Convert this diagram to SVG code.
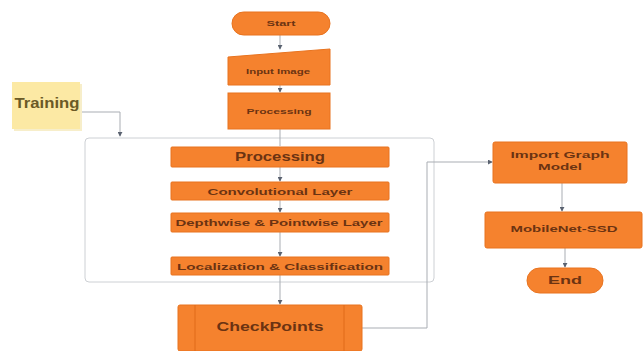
<svg xmlns="http://www.w3.org/2000/svg" width="643" height="351" viewBox="0 0 643 351">
<style>
.n{fill:#F5822E;stroke:#E8731F;stroke-width:1}
.t{font-family:"Liberation Sans",Arial,sans-serif;font-weight:bold;fill:#6B3312;text-anchor:middle;dominant-baseline:central}
.c{fill:none;stroke:#A9ADB3;stroke-width:1}
</style>
<defs>
<marker id="a" viewBox="0 0 6 6" refX="5" refY="3" markerWidth="5" markerHeight="5" orient="auto">
<path d="M0,0 L6,3 L0,6 z" fill="#5A6270"/>
</marker>
</defs>
<rect width="643" height="351" fill="#ffffff"/>
<g id="container">
<rect x="85" y="138" width="349" height="144" rx="4" fill="none" stroke="#CDD0D4" stroke-width="1"/>
</g>
<g id="connectors">
<path class="c" d="M280,35 V49" marker-end="url(#a)"/>
<path class="c" d="M280,85 V92" marker-end="url(#a)"/>
<path class="c" d="M280,129 V146"/>
<path class="c" d="M82,112 H120 V136" marker-end="url(#a)"/>
<path class="c" d="M280,167 V181" marker-end="url(#a)"/>
<path class="c" d="M280,200 V212" marker-end="url(#a)"/>
<path class="c" d="M280,232 V256" marker-end="url(#a)"/>
<path class="c" d="M280,275 V304" marker-end="url(#a)"/>
<path class="c" d="M362,328 H427 V162 H492" marker-end="url(#a)"/>
<path class="c" d="M562,183 V211" marker-end="url(#a)"/>
<path class="c" d="M565,248 V267" marker-end="url(#a)"/>
</g>
<g id="start">
<rect class="n" x="232" y="12" width="98" height="23" rx="11.5"/>
<text class="t" x="281" y="23.5" font-size="8" textLength="29" lengthAdjust="spacingAndGlyphs">Start</text>
</g>
<g id="input-image">
<path class="n" d="M228,57 L330,49 L330,85 L228,85 z"/>
<text class="t" x="278" y="71" font-size="7.5" textLength="64" lengthAdjust="spacingAndGlyphs">Input Image</text>
</g>
<g id="preprocessing">
<rect class="n" x="228" y="93" width="102" height="36"/>
<text class="t" x="279" y="111" font-size="7.5" textLength="65" lengthAdjust="spacingAndGlyphs">Processing</text>
</g>
<g id="training">
<rect x="14" y="84" width="68" height="47" fill="#F2E3A6" opacity="0.6"/>
<rect x="12" y="82" width="68" height="47" fill="#FCE9A4"/>
<text class="t" x="47" y="103" font-size="14" fill="#6B5A26" style="fill:#6B5A26" textLength="65" lengthAdjust="spacingAndGlyphs">Training</text>
</g>
<g id="processing">
<rect class="n" x="171" y="147" width="218" height="20" rx="1"/>
<text class="t" x="280" y="157" font-size="12" textLength="90" lengthAdjust="spacingAndGlyphs">Processing</text>
</g>
<g id="conv">
<rect class="n" x="171" y="182" width="218" height="18" rx="1"/>
<text class="t" x="280" y="191" font-size="9.5" textLength="145" lengthAdjust="spacingAndGlyphs">Convolutional Layer</text>
</g>
<g id="depthwise">
<rect class="n" x="171" y="213" width="218" height="19" rx="1"/>
<text class="t" x="279" y="222.5" font-size="9.5" textLength="207" lengthAdjust="spacingAndGlyphs">Depthwise &amp; Pointwise Layer</text>
</g>
<g id="localization">
<rect class="n" x="171" y="257" width="218" height="18" rx="1"/>
<text class="t" x="280" y="266" font-size="9.5" textLength="206" lengthAdjust="spacingAndGlyphs">Localization &amp;  Classification</text>
</g>
<g id="checkpoints">
<rect class="n" x="178" y="305" width="184" height="46" rx="2"/>
<line x1="195" y1="305" x2="195" y2="351" stroke="#E06A18" stroke-width="1"/>
<line x1="344" y1="305" x2="344" y2="351" stroke="#E06A18" stroke-width="1"/>
<text class="t" x="270" y="327" font-size="12" textLength="107" lengthAdjust="spacingAndGlyphs">CheckPoints</text>
</g>
<g id="import-graph">
<rect class="n" x="493" y="142" width="134" height="41" rx="2"/>
<text class="t" x="560" y="155" font-size="8.5" textLength="99" lengthAdjust="spacingAndGlyphs">Import Graph</text>
<text class="t" x="560" y="166.5" font-size="8.5" textLength="44" lengthAdjust="spacingAndGlyphs">Model</text>
</g>
<g id="mobilenet">
<rect class="n" x="485" y="212" width="157" height="36" rx="2"/>
<text class="t" x="564" y="229" font-size="8.5" textLength="107" lengthAdjust="spacingAndGlyphs">MobileNet-SSD</text>
</g>
<g id="end">
<rect class="n" x="527" y="268" width="76" height="25" rx="12.5"/>
<text class="t" x="565" y="280.5" font-size="10" textLength="34" lengthAdjust="spacingAndGlyphs">End</text>
</g>
</svg>
